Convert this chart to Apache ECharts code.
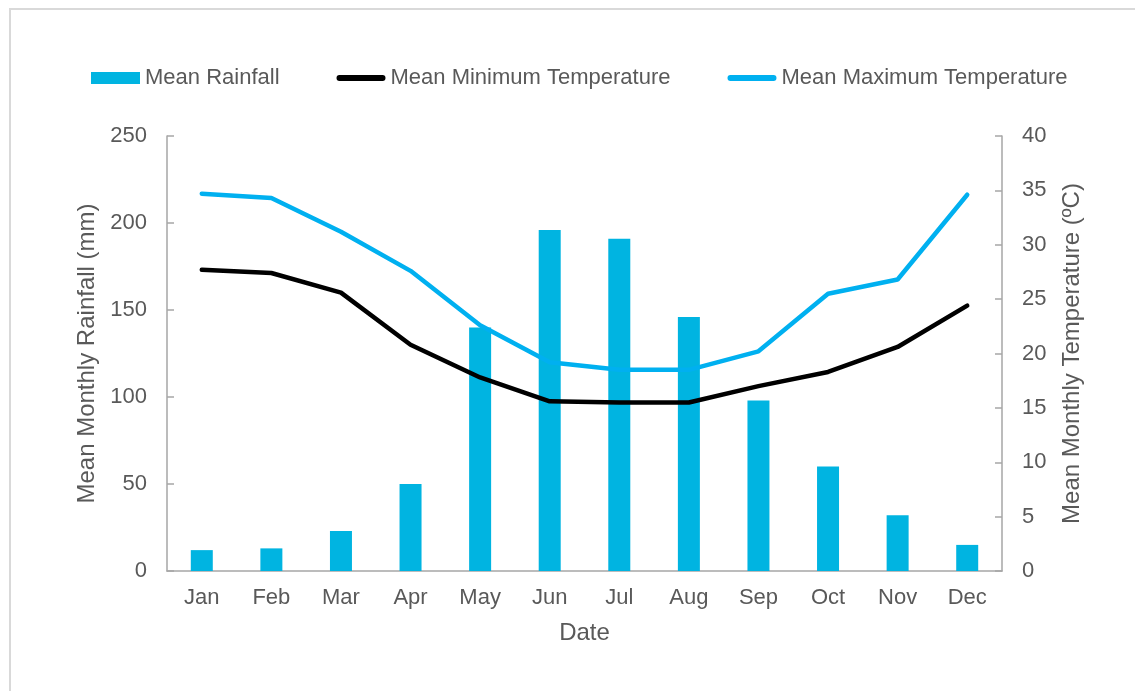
<!DOCTYPE html>
<html>
<head>
<meta charset="utf-8">
<script src="https://cdn.jsdelivr.net/npm/echarts@6/dist/echarts.min.js"></script>
<style>
  html, body { margin: 0; padding: 0; background: #fff; }
  #chart { width: 1135px; height: 691px; }
</style>
</head>
<body>
<div id="chart"></div>
<script>
const months = ['Jan', 'Feb', 'Mar', 'Apr', 'May', 'Jun', 'Jul', 'Aug', 'Sep', 'Oct', 'Nov', 'Dec'];
const rainfall = [12, 13, 23, 50, 140, 196, 191, 146, 98, 60, 32, 15];
const minTemp = [27.7, 27.4, 25.6, 20.8, 17.8, 15.6, 15.5, 15.5, 17.0, 18.3, 20.6, 24.4];
const maxTemp = [34.7, 34.3, 31.2, 27.6, 22.6, 19.2, 18.5, 18.5, 20.2, 25.5, 26.8, 34.6];

const textColor = '#595959';
const axisColor = '#a6a6a6';
const font = 'Liberation Sans, Arial, sans-serif';
// thick rounded bar used as the legend icon for the two lines
const lineIcon = 'path://M3,0 H47 A3,3 0 0 1 47,6 H3 A3,3 0 0 1 3,0 Z';

const chart = echarts.init(document.getElementById('chart'));

const option = {
  animation: false,
  textStyle: { fontFamily: font, color: textColor },
  graphic: [
    {
      type: 'rect',
      shape: { x: 10, y: 9, width: 1140, height: 700 },
      style: { fill: 'none', stroke: '#d9d9d9', lineWidth: 2 },
      silent: true
    }
  ],
  legend: {
    left: 86,
    top: 62,
    itemWidth: 49,
    itemHeight: 12,
    itemGap: 57,
    textStyle: { fontSize: 22, color: textColor, fontFamily: font },
    data: [
      { name: 'Mean Rainfall', icon: 'rect' },
      { name: 'Mean Minimum Temperature', icon: lineIcon },
      { name: 'Mean Maximum Temperature', icon: lineIcon }
    ]
  },
  grid: {
    left: 167,
    right: 133,
    top: 136,
    bottom: 120
  },
  xAxis: {
    type: 'category',
    data: months,
    name: 'Date',
    nameLocation: 'middle',
    nameGap: 50,
    nameTextStyle: { fontSize: 24, color: textColor },
    axisLine: { lineStyle: { color: axisColor, width: 1.5 } },
    axisTick: { show: false },
    axisLabel: { fontSize: 22, color: textColor, margin: 16 }
  },
  yAxis: [
    {
      type: 'value',
      min: 0,
      max: 250,
      interval: 50,
      name: 'Mean Monthly Rainfall (mm)',
      nameLocation: 'middle',
      nameGap: 67,
      nameTextStyle: { fontSize: 24, color: textColor },
      axisLine: { show: true, lineStyle: { color: axisColor, width: 1.5 } },
      axisTick: { show: true, inside: true, length: 7, lineStyle: { color: axisColor, width: 1.5 } },
      axisLabel: { fontSize: 22, color: textColor, margin: 20 },
      splitLine: { show: false }
    },
    {
      type: 'value',
      min: 0,
      max: 40,
      interval: 5,
      position: 'right',
      name: 'Mean Monthly Temperature (ºC)',
      nameLocation: 'middle',
      nameGap: 58,
      nameTextStyle: { fontSize: 24, color: textColor },
      axisLine: { show: true, lineStyle: { color: axisColor, width: 1.5 } },
      axisTick: { show: true, inside: true, length: 7, lineStyle: { color: axisColor, width: 1.5 } },
      axisLabel: { fontSize: 22, color: textColor, margin: 20 },
      splitLine: { show: false }
    }
  ],
  series: [
    {
      name: 'Mean Rainfall',
      type: 'bar',
      yAxisIndex: 0,
      barWidth: 22,
      itemStyle: { color: '#00b4e1' },
      data: rainfall
    },
    {
      name: 'Mean Minimum Temperature',
      type: 'line',
      yAxisIndex: 1,
      symbol: 'none',
      lineStyle: { color: '#000000', width: 4.5, cap: 'round' },
      itemStyle: { color: '#000000' },
      data: minTemp
    },
    {
      name: 'Mean Maximum Temperature',
      type: 'line',
      yAxisIndex: 1,
      symbol: 'none',
      lineStyle: { color: '#00b0f0', width: 4.5, cap: 'round' },
      itemStyle: { color: '#00b0f0' },
      data: maxTemp
    }
  ]
};

chart.setOption(option);
</script>
</body>
</html>
